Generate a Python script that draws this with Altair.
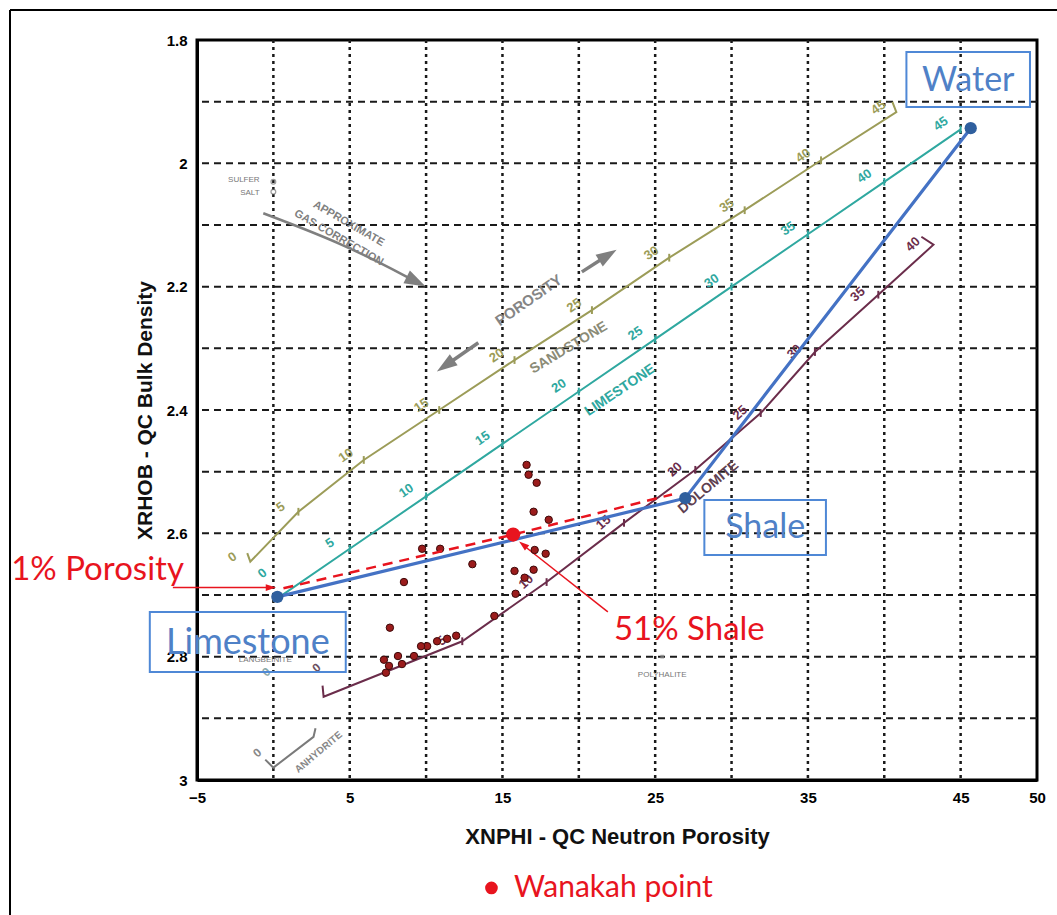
import altair as alt
import pandas as pd

# ---------------- axes ----------------
x_labels = [-5, 5, 15, 25, 35, 45, 50]
y_labels = [1.8, 2.0, 2.2, 2.4, 2.6, 2.8, 3.0]
grid_x = [0, 5, 10, 15, 20, 25, 30, 35, 40, 45]
grid_y = [1.9, 2.0, 2.1, 2.2, 2.3, 2.4, 2.5, 2.6, 2.7, 2.8, 2.9]

# ---------------- lithology lines ----------------
sand_phi = [0, 5, 10, 15, 20, 25, 30, 35, 40, 45]
sand_x = [-1.51, 1.64, 5.92, 10.86, 15.79, 20.86, 25.92, 30.86, 35.86, 40.79]
sand_y = [2.646, 2.565, 2.481, 2.400, 2.319, 2.238, 2.153, 2.076, 1.995, 1.917]
sand_hook_start = (-1.71, 2.632)
sand_hook_end = (40.53, 1.9005)

lime_phi = [0, 5, 10, 15, 20, 25, 30, 35, 40, 45]
lime_x = [0.0, 5.0, 10.0, 15.0, 20.0, 25.0, 30.0, 35.0, 40.0, 45.0]
lime_y = [2.71, 2.625, 2.54, 2.455, 2.37, 2.285, 2.20, 2.115, 2.03, 1.945]

dolo_phi = [0, 5, 10, 15, 20, 25, 30, 35, 40]
dolo_x = [3.29, 12.37, 17.89, 22.96, 27.63, 31.91, 35.46, 39.61, 43.22]
dolo_y = [2.865, 2.775, 2.679, 2.583, 2.497, 2.405, 2.306, 2.213, 2.132]
dolo_hook_start = (3.22, 2.847)
dolo_hook_end = (42.43, 2.119)

anhy_x = [-0.53, 0.0, 2.63, 2.76]
anhy_y = [2.967, 2.980, 2.930, 2.916]

# ---------------- Wanakah points ----------------
wan_x = [16.58, 16.71, 17.24, 17.04, 18.03, 17.11, 17.83, 17.04, 15.79, 16.45,
         15.86, 13.03, 9.74, 10.92, 8.55, 14.47, 7.63, 11.97, 11.38, 10.72,
         10.07, 9.67, 9.21, 8.16, 8.42, 7.57, 7.24, 7.37]
wan_y = [2.489, 2.505, 2.518, 2.565, 2.578, 2.627, 2.633, 2.659, 2.661, 2.672,
         2.698, 2.650, 2.625, 2.625, 2.679, 2.734, 2.753, 2.766, 2.771, 2.775,
         2.783, 2.783, 2.799, 2.799, 2.812, 2.815, 2.805, 2.826]

# ---------------- end members ----------------
end_names = ["Limestone", "Shale", "Water"]
end_x = [0.26, 26.97, 45.66]
end_y = [2.703, 2.543, 1.943]
mix_x = [0.66, 15.70, 26.10]
mix_y = [2.689, 2.602, 2.537]
shale_mix_pt = (15.70, 2.602)

# ---------------- colours ----------------
C_SAND = "#9c9c58"
C_LIME = "#2fa8a0"
C_DOLO = "#6b2d4b"
C_BLUE = "#4472c4"
C_RED = "#e8141e"

xs = alt.Scale(domain=[-5, 50], nice=False, zero=False)
ys = alt.Scale(domain=[1.8, 3.0], reverse=True, nice=False, zero=False)

AX = alt.Axis(
    values=x_labels, grid=False, ticks=False, domain=True, domainColor="black",
    domainWidth=3, labelFont="Liberation Sans", labelFontWeight="bold",
    labelFontSize=15, labelColor="black", labelPadding=10, labelFlush=False,
    title="XNPHI - QC Neutron Porosity", titleFont="Liberation Sans",
    titleFontWeight="bold", titleFontSize=22, titleColor="#111", titlePadding=21)
AY = alt.Axis(
    values=y_labels, format="~g", grid=False, ticks=False, domain=True,
    domainColor="black", domainWidth=3, labelFont="Liberation Sans",
    labelFontWeight="bold", labelFontSize=15, labelColor="black", labelPadding=10,
    labelFlush=False, title="XRHOB - QC Bulk Density", titleFont="Liberation Sans",
    titleFontWeight="bold", titleFontSize=21, titleColor="#111", titlePadding=11)


def X(f):
    return alt.X(f, type="quantitative", scale=xs, axis=AX)


def Y(f):
    return alt.Y(f, type="quantitative", scale=ys, axis=AY)


# ---------- grid ----------
vgrid = alt.Chart(pd.DataFrame({"gx": grid_x})).mark_rule(
    color="#1a1a1a", strokeDash=[3, 4], strokeWidth=2.5).encode(x=X("gx"))
hgrid = alt.Chart(pd.DataFrame({"gy": grid_y})).mark_rule(
    color="#1a1a1a", strokeDash=[7, 5], strokeWidth=2).encode(y=Y("gy"))

# ---------- lithology curves ----------
rows = []
def add_path(name, px, py):
    for i, (a, b) in enumerate(zip(px, py)):
        rows.append({"s": name, "i": i, "x": a, "y": b})

add_path("sand", [sand_hook_start[0]] + sand_x + [sand_hook_end[0]],
         [sand_hook_start[1]] + sand_y + [sand_hook_end[1]])
add_path("lime", lime_x, lime_y)
add_path("dolo", [dolo_hook_start[0]] + dolo_x + [dolo_hook_end[0]],
         [dolo_hook_start[1]] + dolo_y + [dolo_hook_end[1]])
curves = pd.DataFrame(rows)
cscale = alt.Scale(domain=["sand", "lime", "dolo"], range=[C_SAND, C_LIME, C_DOLO])

curve_layer = alt.Chart(curves).mark_line(strokeWidth=2).encode(
    x=X("x"), y=Y("y"), order="i:Q",
    color=alt.Color("s:N", scale=cscale, legend=None))

tick_rows = []
for name, ph, px, py, rng in [("sand", sand_phi, sand_x, sand_y, range(1, 9)),
                              ("lime", lime_phi, lime_x, lime_y, range(1, 10)),
                              ("dolo", dolo_phi, dolo_x, dolo_y, range(1, 8))]:
    for k in rng:
        tick_rows.append({"s": name, "x": px[k], "y": py[k]})
ticks = pd.DataFrame(tick_rows)
tick_layer = alt.Chart(ticks).mark_point(
    shape="M0,-1L0,1", size=60, strokeWidth=2, filled=False, opacity=1
).encode(x=X("x"), y=Y("y"), color=alt.Color("s:N", scale=cscale, legend=None))

lab_rows = []
for name, ph, px, py, k0 in [("sand", sand_phi, sand_x, sand_y, 0),
                             ("lime", lime_phi, lime_x, lime_y, 1),
                             ("dolo", dolo_phi, dolo_x, dolo_y, 1)]:
    for k in range(k0, len(ph)):
        lab_rows.append({"s": name, "x": px[k], "y": py[k], "t": str(ph[k])})
labs = pd.DataFrame(lab_rows)
lab_layers = []
for name, col, ang, dx, dy in [("sand", C_SAND, 325, -12, -14),
                               ("lime", C_LIME, 325, -13, -16),
                               ("dolo", C_DOLO, 318, -15, -14)]:
    lab_layers.append(alt.Chart(labs).transform_filter(alt.datum.s == name).mark_text(
        font="Liberation Sans", fontWeight="bold", fontSize=13, color=col,
        angle=ang, dx=dx, dy=dy).encode(x=X("x"), y=Y("y"), text="t:N"))

anhy = alt.Chart(pd.DataFrame({"x": anhy_x, "y": anhy_y, "i": range(4)})).mark_line(
    color="#7a7a7a", strokeWidth=2).encode(x=X("x"), y=Y("y"), order="i:Q")

# ---------- word labels (bold sans) ----------
words = pd.DataFrame([
    {"t": "SANDSTONE", "x": 19.34, "y": 2.299, "a": 329, "c": "#8b8b76", "z": 14},
    {"t": "LIMESTONE", "x": 22.7, "y": 2.368, "a": 326, "c": C_LIME, "z": 14},
    {"t": "POROSITY", "x": 16.71, "y": 2.222, "a": 325, "c": "#858585", "z": 15},
    {"t": "DOLOMITE", "x": 28.49, "y": 2.525, "a": 320, "c": "#5e4050", "z": 14},
    {"t": "APPROXIMATE", "x": 4.93, "y": 2.098, "a": 30, "c": "#808080", "z": 11},
    {"t": "GAS CORRECTION", "x": 4.28, "y": 2.121, "a": 30, "c": "#808080", "z": 11},
    {"t": "ANHYDRITE", "x": 2.96, "y": 2.955, "a": 320, "c": "#888888", "z": 10},
    {"t": "0", "x": -1.05, "y": 2.956, "a": 320, "c": "#888888", "z": 12},
    {"t": "0", "x": -0.46, "y": 2.825, "a": 320, "c": "#8aa8a8", "z": 12},
    {"t": "0", "x": 2.83, "y": 2.818, "a": 320, "c": "#6b5060", "z": 12},
    {"t": "0", "x": -0.72, "y": 2.665, "a": 320, "c": C_LIME, "z": 13},
])
word_layer = alt.Chart(words).mark_text(font="Liberation Sans", fontWeight="bold").encode(
    x=X("x"), y=Y("y"), text="t:N", angle=alt.Angle("a:Q", scale=None),
    color=alt.Color("c:N", scale=None), size=alt.Size("z:Q", scale=None))

minerals = pd.DataFrame([
    {"t": "SULFER", "x": -0.9, "y": 2.027, "al": "right"},
    {"t": "SALT", "x": -0.9, "y": 2.048, "al": "right"},
    {"t": "LANGBEINITE", "x": -0.53, "y": 2.805, "al": "center"},
    {"t": "POLYHALITE", "x": 25.46, "y": 2.83, "al": "center"},
])
min_text_r = alt.Chart(minerals).transform_filter(alt.datum.al == "right").mark_text(
    font="Liberation Sans", fontSize=8, color="#777", align="right").encode(
    x=X("x"), y=Y("y"), text="t:N")
min_text_c = alt.Chart(minerals).transform_filter(alt.datum.al == "center").mark_text(
    font="Liberation Sans", fontSize=8, color="#777", align="center").encode(
    x=X("x"), y=Y("y"), text="t:N")
min_pts = alt.Chart(pd.DataFrame({"x": [0.0, 0.0], "y": [2.030, 2.046]})).mark_point(
    shape="circle", size=22, color="#777", strokeWidth=1.3, filled=False).encode(x=X("x"), y=Y("y"))
poly_pt = alt.Chart(pd.DataFrame({"x": [25.46], "y": [2.80]})).mark_point(
    shape="square", size=14, color="#888", filled=True).encode(x=X("x"), y=Y("y"))

# ---------- arrows ----------
arr_rows = []
def add_arrow(name, px, py):
    for i, (a, b) in enumerate(zip(px, py)):
        arr_rows.append({"s": name, "i": i, "x": a, "y": b})
add_arrow("gas", [-0.66, 4.74, 9.28], [2.081, 2.132, 2.191])
add_arrow("por_up", [20.2, 21.84], [2.176, 2.150])
add_arrow("por_dn", [13.42, 11.32], [2.291, 2.327])
arrows = pd.DataFrame(arr_rows)
gas_line = alt.Chart(arrows).transform_filter(alt.datum.s == "gas").mark_line(
    color="#7f7f7f", strokeWidth=2.5, interpolate="basis").encode(
    x=X("x"), y=Y("y"), order="i:Q")
por_line = alt.Chart(arrows).transform_filter(alt.datum.s != "gas").mark_line(
    color="#7f7f7f", strokeWidth=3.5).encode(
    x=X("x"), y=Y("y"), order="i:Q", detail="s:N")

heads = pd.DataFrame([
    {"x": 9.28, "y": 2.191, "a": 117, "c": "#7f7f7f", "z": 560},
    {"x": 21.84, "y": 2.150, "a": 58, "c": "#7f7f7f", "z": 520},
    {"x": 11.32, "y": 2.327, "a": 235, "c": "#7f7f7f", "z": 520},
    {"x": -0.2, "y": 2.688, "a": 90, "c": C_RED, "z": 130},
    {"x": 16.38, "y": 2.619, "a": 309, "c": C_RED, "z": 130},
])
head_layer = alt.Chart(heads).mark_point(
    shape="M0,-1L0.6,0.8L-0.6,0.8Z", filled=True, opacity=1, strokeWidth=0).encode(
    x=X("x"), y=Y("y"), angle=alt.Angle("a:Q", scale=None),
    color=alt.Color("c:N", scale=None), size=alt.Size("z:Q", scale=None))

red_rows = [
    {"s": "por", "i": 0, "x": -6.58, "y": 2.688}, {"s": "por", "i": 1, "x": -0.3, "y": 2.688},
    {"s": "sh", "i": 0, "x": 21.9, "y": 2.7275}, {"s": "sh", "i": 1, "x": 16.45, "y": 2.621},
]
red_thin = alt.Chart(pd.DataFrame(red_rows)).mark_line(color=C_RED, strokeWidth=1.5).encode(
    x=X("x"), y=Y("y"), order="i:Q", detail="s:N")

# ---------- end-member triangle ----------
ends = pd.DataFrame({"name": end_names, "x": end_x, "y": end_y, "i": [0, 1, 2]})
blue_line = alt.Chart(ends).mark_line(color=C_BLUE, strokeWidth=3.2).encode(
    x=X("x"), y=Y("y"), order="i:Q")
blue_pts = alt.Chart(ends).mark_circle(size=150, color="#2f5f9e", opacity=1).encode(x=X("x"), y=Y("y"))
mix = pd.DataFrame({"x": mix_x, "y": mix_y, "i": [0, 1, 2]})
red_dash = alt.Chart(mix).mark_line(color=C_RED, strokeWidth=2.5, strokeDash=[10, 7]).encode(
    x=X("x"), y=Y("y"), order="i:Q")
red_pt = alt.Chart(pd.DataFrame({"x": [shale_mix_pt[0]], "y": [shale_mix_pt[1]]})).mark_circle(
    size=200, color=C_RED, opacity=1).encode(x=X("x"), y=Y("y"))

wan = alt.Chart(pd.DataFrame({"x": wan_x, "y": wan_y})).mark_point(
    shape="circle", size=55, filled=True, fill="#9b1c1c", stroke="#3d0a0a",
    strokeWidth=1, opacity=1).encode(x=X("x"), y=Y("y"))

# ---------- annotation boxes + text ----------
boxes = pd.DataFrame([
    {"x": -8.09, "x2": 4.74, "y": 2.7275, "y2": 2.825},
    {"x": 28.22, "x2": 36.18, "y": 2.546, "y2": 2.635},
    {"x": 41.45, "x2": 49.54, "y": 1.8195, "y2": 1.9087},
])
box_layer = alt.Chart(boxes).mark_rect(fill=None, stroke="#4f88d6", strokeWidth=2).encode(
    x=X("x"), x2="x2", y=Y("y"), y2="y2")

blue_txt = pd.DataFrame([
    {"t": "Limestone", "x": -1.67, "y": 2.778, "z": 36},
    {"t": "Shale", "x": 32.2, "y": 2.592, "z": 34},
    {"t": "Water", "x": 45.5, "y": 1.866, "z": 34},
])
blue_text = alt.Chart(blue_txt).mark_text(font="Lato", color="#4f81c7",
                                          baseline="middle").encode(
    x=X("x"), y=Y("y"), text="t:N", size=alt.Size("z:Q", scale=None))
red_txt = pd.DataFrame([
    {"t": "1% Porosity", "x": -17.17, "y": 2.659},
    {"t": "51% Shale", "x": 22.3, "y": 2.757},
])
red_text = alt.Chart(red_txt).mark_text(font="Lato", fontSize=33, color=C_RED, align="left",
                                        baseline="middle").encode(x=X("x"), y=Y("y"), text="t:N")

# legend item below the axis title
leg_dot = alt.Chart(pd.DataFrame({"x": [14.28], "y": [3.175]})).mark_circle(
    size=160, color=C_RED, opacity=1).encode(x=X("x"), y=Y("y"))
leg_txt = alt.Chart(pd.DataFrame({"x": [15.75], "y": [3.175], "t": ["Wanakah point"]})).mark_text(
    font="Lato", fontSize=30, color=C_RED, align="left", baseline="middle").encode(
    x=X("x"), y=Y("y"), text="t:N")

# outer frame of the figure
frame_left = alt.Chart(pd.DataFrame({"k": [0]})).mark_rule(color="black", strokeWidth=2).encode(
    x=alt.value(-187), y=alt.value(-30), y2=alt.value(880))
frame_top = alt.Chart(pd.DataFrame({"k": [0]})).mark_rule(color="black", strokeWidth=2).encode(
    x=alt.value(-187), x2=alt.value(860), y=alt.value(-30))

chart = alt.layer(
    vgrid, hgrid, frame_left, frame_top,
    curve_layer, tick_layer, *lab_layers, anhy,
    word_layer, min_text_r, min_text_c, min_pts, poly_pt,
    gas_line, por_line, red_thin,
    box_layer,
    wan, blue_line, red_dash, blue_pts, red_pt, head_layer,
    blue_text, red_text, leg_dot, leg_txt,
).properties(
    width=840, height=740,
    background="white",
    autosize=alt.AutoSizeParams(type="none"),
    padding={"left": 197, "top": 40, "right": 20, "bottom": 135},
).configure_view(stroke="black", strokeWidth=3)

chart.save("out.html", embed_options={"renderer": "svg", "actions": False})
